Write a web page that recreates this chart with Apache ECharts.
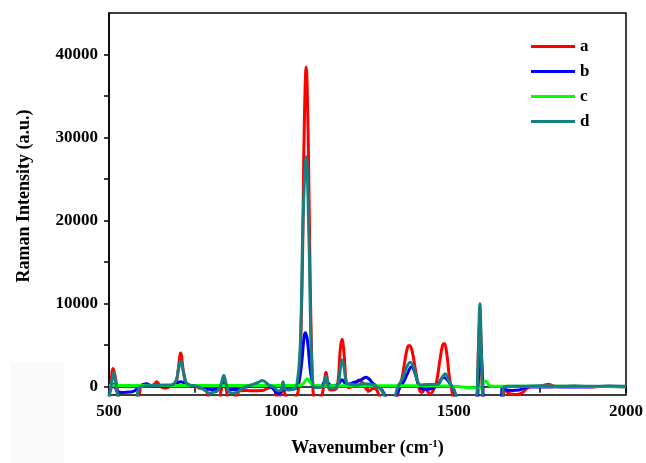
<!DOCTYPE html>
<html>
<head>
<meta charset="utf-8">
<script src="https://cdn.jsdelivr.net/npm/echarts@6/dist/echarts.min.js"></script>
<style>
  html, body { margin: 0; padding: 0; background: #fff; }
  #chart { width: 646px; height: 463px; }
</style>
</head>
<body>
<div id="chart"></div>
<script>
// Raman spectra, [wavenumber, intensity]
const seriesNames = ['a', 'b', 'c', 'd']
const seriesColors = ['#ff0000', '#0000ff', '#00ff00', '#168080']

const specA = [[500,-1200],[505,300],[512,2200],[518,1200],[524,-300],[530,-1500],[560,-1800],[585,-1200],[592,0],[600,150],[620,100],[632,300],[638,600],[645,300],[655,-100],[665,-150],[680,100],[693,300],[700,1800],[708,4050],[716,1800],[725,300],[740,0],[752,100],[762,-200],[772,-100],[782,-400],[792,-1500],[815,-1800],[826,-300],[833,1200],[840,-200],[848,-1500],[868,-1200],[880,-500],[900,-450],[920,-500],[945,-450],[960,-200],[972,0],[980,-300],[990,-1500],[1000,-700],[1005,400],[1010,-800],[1020,-1500],[1040,-1300],[1050,-200],[1060,12000],[1066,30000],[1072,38500],[1078,30000],[1084,12000],[1092,-500],[1100,-1500],[1115,-1200],[1122,-200],[1130,1750],[1137,-100],[1145,-400],[1158,-300],[1165,800],[1171,4500],[1176,5700],[1182,4000],[1188,600],[1195,-100],[1205,0],[1215,400],[1225,800],[1235,500],[1247,-300],[1256,-500],[1265,-200],[1275,-300],[1285,-1200],[1295,-2000],[1330,-2000],[1340,-500],[1350,1000],[1358,3000],[1366,4700],[1372,4950],[1380,4200],[1390,1800],[1400,-300],[1408,-700],[1418,-100],[1425,-600],[1432,-900],[1440,-500],[1450,500],[1460,3200],[1468,5000],[1473,5200],[1480,4000],[1488,1000],[1495,-500],[1505,-2000],[1560,-2000],[1568,-1000],[1572,5000],[1576,8000],[1580,5000],[1585,-1500],[1600,-2000],[1640,-2000],[1648,-300],[1660,-800],[1680,-950],[1700,-700],[1712,-200],[1725,0],[1750,50],[1765,200],[1775,300],[1785,150],[1800,0],[1850,50],[1900,-30],[1950,50],[2000,0]]

const specB = [[500,-800],[506,-200],[512,300],[518,-100],[525,-600],[540,-700],[560,-650],[575,-500],[585,0],[595,200],[609,350],[620,150],[640,100],[660,50],[680,150],[695,350],[708,600],[718,450],[730,200],[745,100],[760,50],[775,-100],[790,-300],[805,-350],[820,-200],[833,300],[842,-200],[855,-350],[875,-300],[890,-100],[910,50],[940,100],[960,50],[975,-200],[985,-700],[995,-800],[1002,-200],[1005,300],[1010,-400],[1020,-300],[1035,-300],[1048,200],[1058,2500],[1066,6000],[1070,6500],[1076,5500],[1084,2000],[1092,200],[1100,-100],[1115,0],[1122,400],[1130,900],[1138,300],[1150,100],[1165,300],[1176,850],[1185,400],[1195,300],[1210,500],[1225,700],[1238,1000],[1246,1150],[1255,900],[1268,300],[1280,0],[1292,-400],[1302,-1200],[1312,-2000],[1328,-2000],[1336,-800],[1345,0],[1355,600],[1365,1500],[1378,2400],[1388,1600],[1396,500],[1405,-200],[1420,-300],[1440,-200],[1455,300],[1470,1100],[1480,900],[1490,300],[1500,-300],[1508,-1500],[1520,-2000],[1565,-2000],[1572,1000],[1578,5000],[1584,1000],[1590,-2000],[1635,-2000],[1642,0],[1650,-350],[1670,-450],[1690,-400],[1705,-150],[1720,0],[1760,-50],[1800,0],[1850,-50],[1900,0],[1950,30],[2000,0]]

const specC = [[500,150],[600,150],[700,150],[800,150],[900,150],[1000,150],[1050,150],[1062,300],[1075,950],[1088,300],[1100,150],[1200,100],[1300,100],[1400,100],[1500,50],[1540,-100],[1570,-150],[1580,-100],[1586,400],[1594,650],[1602,200],[1610,50],[1700,50],[1800,50],[1900,30],[2000,0]]

const specD = [[500,-1500],[506,100],[514,1750],[520,300],[526,-1200],[535,-2000],[575,-2000],[585,-300],[592,0],[610,100],[640,150],[660,200],[680,200],[695,800],[702,2200],[708,3100],[715,2000],[724,500],[735,200],[750,100],[765,-100],[780,-500],[790,-800],[800,-700],[815,-500],[825,300],[833,1350],[840,300],[848,-600],[860,-800],[875,-600],[890,-100],[905,100],[920,300],[935,550],[945,750],[955,500],[968,100],[980,-100],[990,-500],[1000,-400],[1005,600],[1010,-300],[1020,-400],[1035,-300],[1045,200],[1055,5000],[1063,20000],[1072,27700],[1080,18000],[1088,3000],[1096,-100],[1110,-100],[1122,200],[1130,1300],[1138,-100],[1150,-200],[1165,400],[1172,2500],[1176,3250],[1182,2300],[1190,400],[1200,300],[1215,200],[1230,300],[1245,350],[1260,300],[1275,0],[1288,-300],[1298,-1000],[1310,-2000],[1326,-2000],[1334,-500],[1342,300],[1352,1000],[1362,2200],[1374,2950],[1385,2200],[1395,700],[1405,200],[1420,250],[1440,250],[1455,300],[1465,1000],[1475,1550],[1485,800],[1495,0],[1505,-800],[1515,-2000],[1562,-2000],[1570,2000],[1576,10000],[1582,2000],[1588,-2000],[1640,-2000],[1646,0],[1660,50],[1700,50],[1750,100],[1800,50],[1850,80],[1900,50],[1950,80],[2000,50]]

const xTicks = [500, 750, 1000, 1250, 1500, 1750, 2000]
const xLabels = [500, 1000, 1500, 2000]
const yTicks = [0, 5000, 10000, 15000, 20000, 25000, 30000, 35000, 40000]
const yLabels = [0, 10000, 20000, 30000, 40000]

const font = "'Liberation Serif', 'Times New Roman', serif"
const specs = [specA, specB, specC, specD]

const chart = echarts.init(document.getElementById('chart'))
const option = {
  animation: false,
  backgroundColor: '#fff',
  graphic: [
    { type: 'rect', z: -10, shape: { x: 11, y: 362, width: 53, height: 101 }, style: { fill: '#fafafa' } }
  ],
  grid: {
    left: 109, right: 19, top: 13, bottom: 68,
    show: true, borderColor: '#000', borderWidth: 1.5
  },
  legend: {
    orient: 'vertical',
    left: 526,
    top: 33,
    itemWidth: 44,
    itemHeight: 3,
    itemGap: 8,
    icon: 'rect',
    data: seriesNames,
    textStyle: { fontFamily: font, fontWeight: 'bold', fontSize: 17, color: '#000', lineHeight: 16 }
  },
  xAxis: {
    type: 'value',
    min: 500,
    max: 2000,
    name: 'Wavenumber (cm{sup|-1})',
    nameLocation: 'middle',
    nameGap: 44,
    nameTextStyle: {
      fontFamily: font, fontWeight: 'bold', fontSize: 18, color: '#000',
      rich: { sup: { fontFamily: font, fontWeight: 'bold', fontSize: 11, color: '#000', verticalAlign: 'top', padding: [0, 0, 8, 0] } }
    },
    axisLine: { lineStyle: { color: '#000', width: 1.5 } },
    axisTick: { inside: false, length: 6, lineStyle: { color: '#000', width: 1.5 }, customValues: xTicks },
    axisLabel: { customValues: xLabels, formatter: v => String(v), margin: 8, fontFamily: font, fontWeight: 'bold', fontSize: 17, color: '#000' },
    splitLine: { show: false }
  },
  yAxis: {
    type: 'value',
    min: -1000,
    max: 45000,
    name: 'Raman Intensity (a.u.)',
    nameLocation: 'middle',
    nameGap: 76,
    nameTextStyle: { fontFamily: font, fontWeight: 'bold', fontSize: 18, color: '#000', padding: [0, 0, 0, 16] },
    axisLine: { show: true, lineStyle: { color: '#000', width: 1.5 } },
    axisTick: { show: true, inside: false, length: 5, lineStyle: { color: '#000', width: 1.5 }, customValues: yTicks },
    axisLabel: { customValues: yLabels, formatter: v => String(v), margin: 11, fontFamily: font, fontWeight: 'bold', fontSize: 17, color: '#000' },
    splitLine: { show: false }
  },
  series: seriesNames.map((name, i) => ({
    name: name,
    type: 'line',
    data: specs[i],
    smooth: 0.4,
    showSymbol: false,
    clip: true,
    color: seriesColors[i],
    lineStyle: { width: 3, color: seriesColors[i] }
  }))
}
chart.setOption(option)
</script>
</body>
</html>
